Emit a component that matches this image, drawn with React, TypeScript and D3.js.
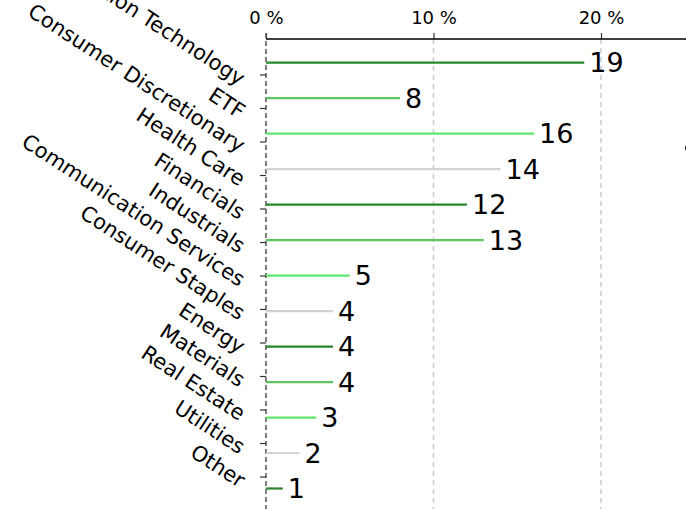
import React, { useEffect, useRef } from "react";
import * as d3 from "d3";

const sectors = [
  "Information Technology",
  "ETF",
  "Consumer Discretionary",
  "Health Care",
  "Financials",
  "Industrials",
  "Communication Services",
  "Consumer Staples",
  "Energy",
  "Materials",
  "Real Estate",
  "Utilities",
  "Other",
];
const weights = [19, 8, 16, 14, 12, 13, 5, 4, 4, 4, 3, 2, 1];
const palette = ["#2b8630", "#5cc65f", "#5ee670", "#d3d3d3"];
const xTicks = [0, 10, 20];

const W = 686;
const H = 509;

export default function App() {
  const ref = useRef<SVGSVGElement | null>(null);

  useEffect(() => {
    const svg = d3.select(ref.current);
    svg.selectAll("*").remove();

    const font = "DejaVu Sans, sans-serif";
    const x = d3.scaleLinear().domain([0, 20]).range([266, 601]);

    // tick positions and line positions are not aligned in the original
    const yTick = d3
      .scalePoint<string>()
      .domain(sectors)
      .range([75, 477]);
    const yLine = d3
      .scalePoint<string>()
      .domain(sectors)
      .range([62.7, 488.5]);

    // grid
    svg
      .append("g")
      .selectAll("line")
      .data(xTicks.slice(1))
      .join("line")
      .attr("x1", (d) => x(d))
      .attr("x2", (d) => x(d))
      .attr("y1", 39)
      .attr("y2", H)
      .attr("stroke", "#cccccc")
      .attr("stroke-width", 1.5)
      .attr("stroke-dasharray", "5,4");

    // top axis
    const top = svg.append("g").attr("transform", "translate(0,39)");
    top
      .call(d3.axisTop(x).tickValues(xTicks).tickSize(6).tickPadding(9).tickFormat((d) => `${d} %`))
      .call((g) => g.select(".domain").remove());
    top
      .append("line")
      .attr("x1", x(0))
      .attr("x2", W)
      .attr("stroke", "#000")
      .attr("stroke-width", 1.3);
    top.selectAll(".tick line").attr("stroke", "#333").attr("stroke-width", 1.2);
    top
      .selectAll(".tick text")
      .attr("font-family", font)
      .attr("font-size", 18)
      .attr("fill", "#000");

    // left spine (dashed)
    svg
      .append("line")
      .attr("x1", x(0))
      .attr("x2", x(0))
      .attr("y1", 33)
      .attr("y2", H)
      .attr("stroke", "#555")
      .attr("stroke-width", 1.5)
      .attr("stroke-dasharray", "5,3");

    // left ticks
    svg
      .append("g")
      .selectAll("line")
      .data(sectors)
      .join("line")
      .attr("x1", x(0) - 6)
      .attr("x2", x(0))
      .attr("y1", (d) => yTick(d)!)
      .attr("y2", (d) => yTick(d)!)
      .attr("stroke", "#333")
      .attr("stroke-width", 1.2);

    // category labels
    svg
      .append("g")
      .selectAll("text")
      .data(sectors)
      .join("text")
      .attr("transform", (d) => `translate(243,${yTick(d)! + 5}) rotate(33)`)
      .attr("text-anchor", "end")
      .attr("dy", "0.35em")
      .attr("font-family", font)
      .attr("font-size", 21)
      .attr("fill", "#000")
      .text((d) => d);

    // lines
    svg
      .append("g")
      .selectAll("line")
      .data(sectors)
      .join("line")
      .attr("x1", x(0))
      .attr("x2", (d, i) => x(weights[i]))
      .attr("y1", (d) => yLine(d)!)
      .attr("y2", (d) => yLine(d)!)
      .attr("stroke", (d, i) => palette[i % palette.length])
      .attr("stroke-width", 2.2);

    // value labels
    svg
      .append("g")
      .selectAll("text")
      .data(sectors)
      .join("text")
      .attr("x", (d, i) => x(weights[i]) + 5)
      .attr("y", (d) => yLine(d)!)
      .attr("dy", "0.36em")
      .attr("font-family", font)
      .attr("font-size", 27)
      .attr("fill", "#000")
      .text((d, i) => weights[i]);

    // clipped marker at right edge
    svg
      .append("circle")
      .attr("cx", W + 3)
      .attr("cy", 148)
      .attr("r", 4)
      .attr("fill", "#222");
  }, []);

  return (
    <svg
      ref={ref}
      width={W}
      height={H}
      style={{ position: "absolute", left: 0, top: 0, background: "#fff" }}
    />
  );
}
